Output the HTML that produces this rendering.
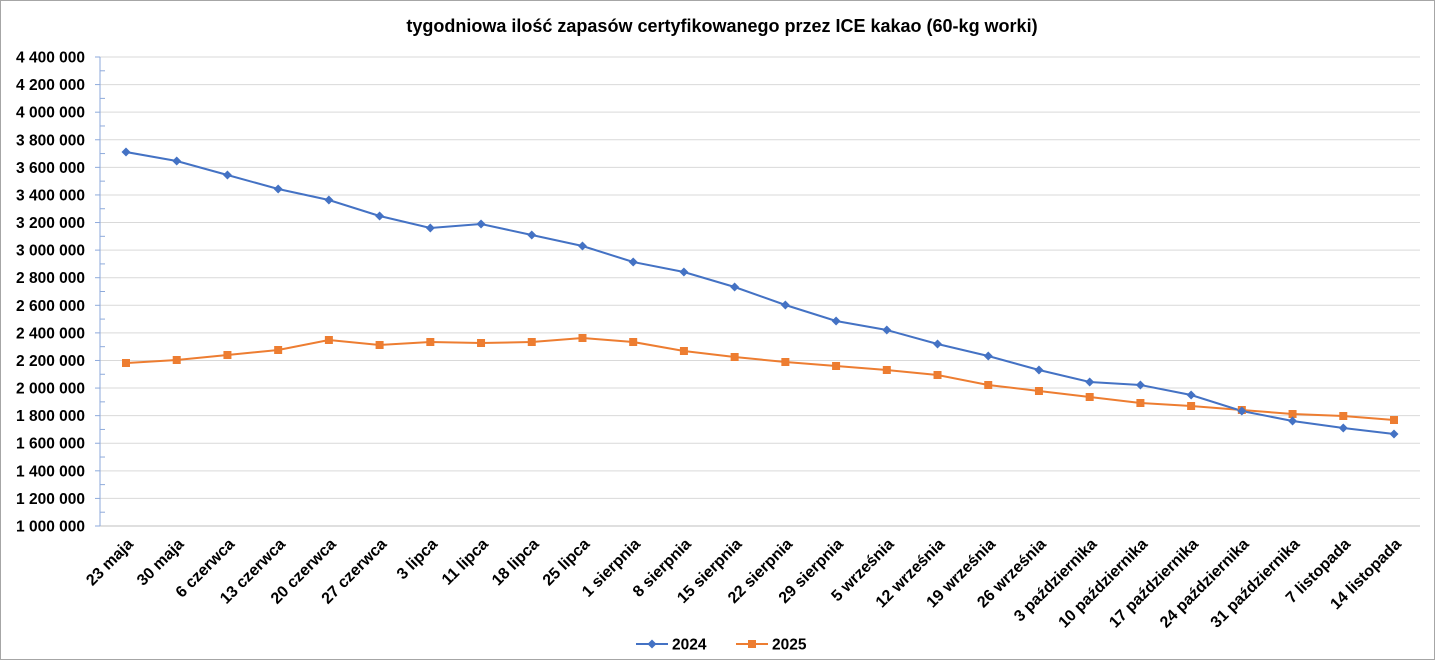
<!DOCTYPE html>
<html><head><meta charset="utf-8"><style>
body{margin:0;background:#fff}
svg{display:block;font-family:"Liberation Sans",sans-serif}
</style></head><body>
<svg id="c" width="1435" height="660" xmlns="http://www.w3.org/2000/svg">
<rect x="0.5" y="0.5" width="1434" height="659" fill="#fff" stroke="#a6a6a6"/>
<text x="722" y="32" text-anchor="middle" font-size="18" font-weight="bold" fill="#000">tygodniowa ilość zapasów certyfikowanego przez ICE kakao (60-kg worki)</text>
<g id="g"></g>
</svg>
<script>
(function(){
var g=document.getElementById('g'),h='';
var yTop=57,yBot=526,step=(yBot-yTop)/17,L=100,R=1420;
for(var i=0;i<=17;i++){var y=yTop+i*step;
 h+='<line x1="'+L+'" x2="'+R+'" y1="'+y+'" y2="'+y+'" stroke="'+(i==17?'#bfbfbf':'#d9d9d9')+'" stroke-width="1"/>';
 h+='<line x1="95" x2="'+L+'" y1="'+y+'" y2="'+y+'" stroke="#8eaadb"/>';
 if(i<17)h+='<line x1="'+L+'" x2="105" y1="'+(y+step/2)+'" y2="'+(y+step/2)+'" stroke="#8eaadb"/>';
 var v=4400000-i*200000,s=v.toString().replace(/\B(?=(\d{3})+(?!\d))/g,' ');
 h+='<text x="85" y="'+(y+5.5)+'" text-anchor="end" font-size="15.5" font-weight="bold">'+s+'</text>';}
h+='<line x1="'+L+'" x2="'+L+'" y1="'+yTop+'" y2="'+yBot+'" stroke="#8eaadb"/>';
var labs=["23 maja","30 maja","6 czerwca","13 czerwca","20 czerwca","27 czerwca","3 lipca","11 lipca","18 lipca","25 lipca","1 sierpnia","8 sierpnia","15 sierpnia","22 sierpnia","29 sierpnia","5 września","12 września","19 września","26 września","3 października","10 października","17 października","24 października","31 października","7 listopada","14 listopada"];
var n=labs.length,x0=126,dx=(1394-126)/(n-1);
var a=[152,161,175,189,200,216,228,224,235,246,262,272,287,305,321,330,344,356,370,382,385,395,411,421,428,434];
var b=[363,360,355,350,340,345,342,343,342,338,342,351,357,362,366,370,375,385,391,397,403,406,410,414,416,420];
function pts(arr){return arr.map(function(y,i){return (x0+i*dx).toFixed(1)+','+y}).join(' ');}
h+='<polyline points="'+pts(b)+'" fill="none" stroke="#ed7d31" stroke-width="2"/>';
h+='<polyline points="'+pts(a)+'" fill="none" stroke="#4472c4" stroke-width="2"/>';
for(var i=0;i<n;i++){var x=x0+i*dx;
 h+='<rect x="'+(x-4)+'" y="'+(b[i]-4)+'" width="8" height="8" fill="#ed7d31"/>';
 h+='<polygon points="'+x+','+(a[i]-4.5)+' '+(x+4.5)+','+a[i]+' '+x+','+(a[i]+4.5)+' '+(x-4.5)+','+a[i]+'" fill="#4472c4"/>';
 h+='<text transform="translate('+(x+8)+',545) rotate(-45)" text-anchor="end" font-size="16" font-weight="bold">'+labs[i]+'</text>';}
h+='<line x1="636" x2="668" y1="644" y2="644" stroke="#4472c4" stroke-width="2"/><polygon points="652,639.5 656.5,644 652,648.5 647.5,644" fill="#4472c4"/>';
h+='<text x="672" y="649.5" font-size="15.5" font-weight="bold">2024</text>';
h+='<line x1="736" x2="768" y1="644" y2="644" stroke="#ed7d31" stroke-width="2"/><rect x="748" y="640" width="8" height="8" fill="#ed7d31"/>';
h+='<text x="772" y="649.5" font-size="15.5" font-weight="bold">2025</text>';
g.innerHTML=h;
})();
</script>
</body></html>
